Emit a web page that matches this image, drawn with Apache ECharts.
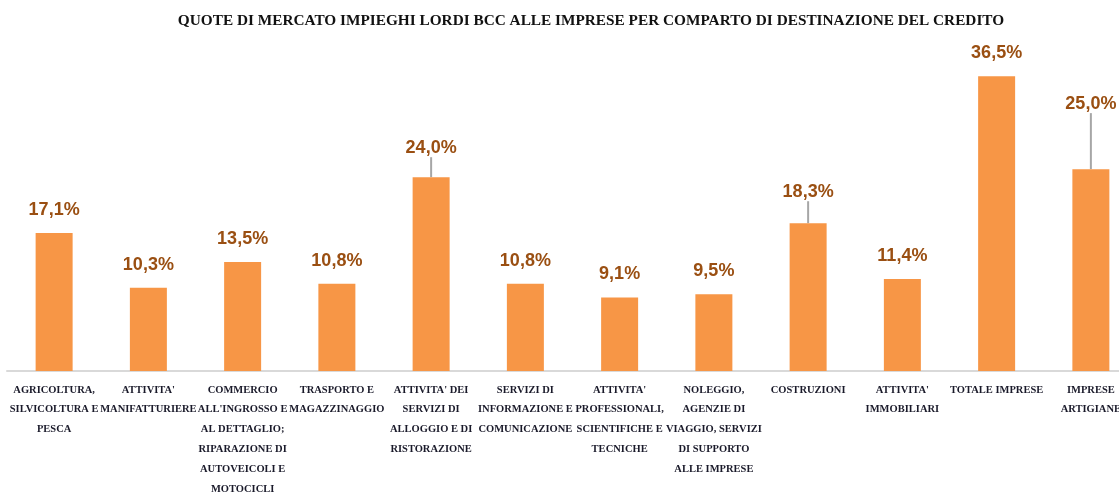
<!DOCTYPE html>
<html>
<head>
<meta charset="utf-8">
<script src="https://cdn.jsdelivr.net/npm/echarts@6/dist/echarts.min.js"></script>
<style>
  html, body { margin: 0; padding: 0; background: #fff; }
  #chart { width: 1119px; height: 493px; }
</style>
</head>
<body>
<div id="chart"></div>
<script>
const titleText = 'QUOTE DI MERCATO IMPIEGHI LORDI BCC ALLE IMPRESE PER COMPARTO DI DESTINAZIONE DEL CREDITO'

const categories = [
  'AGRICOLTURA,\nSILVICOLTURA E\nPESCA',
  "ATTIVITA'\nMANIFATTURIERE",
  "COMMERCIO\nALL'INGROSSO E\nAL DETTAGLIO;\nRIPARAZIONE DI\nAUTOVEICOLI E\nMOTOCICLI",
  'TRASPORTO E\nMAGAZZINAGGIO',
  "ATTIVITA' DEI\nSERVIZI DI\nALLOGGIO E DI\nRISTORAZIONE",
  'SERVIZI DI\nINFORMAZIONE E\nCOMUNICAZIONE',
  "ATTIVITA'\nPROFESSIONALI,\nSCIENTIFICHE E\nTECNICHE",
  'NOLEGGIO,\nAGENZIE DI\nVIAGGIO, SERVIZI\nDI SUPPORTO\nALLE IMPRESE',
  'COSTRUZIONI',
  "ATTIVITA'\nIMMOBILIARI",
  'TOTALE IMPRESE',
  'IMPRESE\nARTIGIANE',
]

const shares = [17.1, 10.3, 13.5, 10.8, 24.0, 10.8, 9.1, 9.5, 18.3, 11.4, 36.5, 25.0]

// labels pulled up with a leader line (index -> extra lift in px)
const liftedLabels = { 4: 6, 8: 8, 11: 42 }

const chart = echarts.init(document.getElementById('chart'))

const barData = shares.map((v, i) => ({
  value: v,
  labelLine: { show: !!liftedLabels[i] },
}))

const option = {
  animation: false,
  title: {
    text: titleText,
    left: 586,
    top: 9,
    textAlign: 'center',
    textStyle: {
      fontFamily: 'Liberation Serif',
      fontWeight: 'bold',
      fontSize: 15.3,
      color: '#111',
    },
  },
  grid: {
    left: 7,
    right: -19,
    top: 48,
    bottom: 122,
    outerBoundsMode: 'none',
  },
  xAxis: {
    type: 'category',
    data: categories,
    axisLine: { lineStyle: { color: '#d9d9d9', width: 2 } },
    axisTick: { show: false },
    axisLabel: {
      interval: 0,
      margin: 9,
      fontFamily: 'Liberation Serif',
      fontWeight: 'bold',
      fontSize: 10.5,
      lineHeight: 19.8,
      color: '#1a1a2a',
      verticalAlign: 'top',
    },
  },
  yAxis: {
    type: 'value',
    min: 0,
    max: 40,
    show: false,
    splitLine: { show: false },
  },
  series: [{
    type: 'bar',
    data: barData,
    barWidth: 37,
    itemStyle: { color: '#f79646' },
    label: {
      show: true,
      position: 'top',
      distance: 14,
      fontFamily: 'Liberation Sans',
      fontWeight: 'bold',
      fontSize: 18,
      color: '#9a4f12',
      formatter: (p) => p.value.toFixed(1).replace('.', ',') + '%',
    },
    labelLine: {
      lineStyle: { color: '#a6a6a6', width: 2 },
    },
    labelLayout: (params) => {
      const lift = liftedLabels[params.dataIndex]
      return lift ? { dy: -lift } : {}
    },
  }],
}

chart.setOption(option)
</script>
</body>
</html>
